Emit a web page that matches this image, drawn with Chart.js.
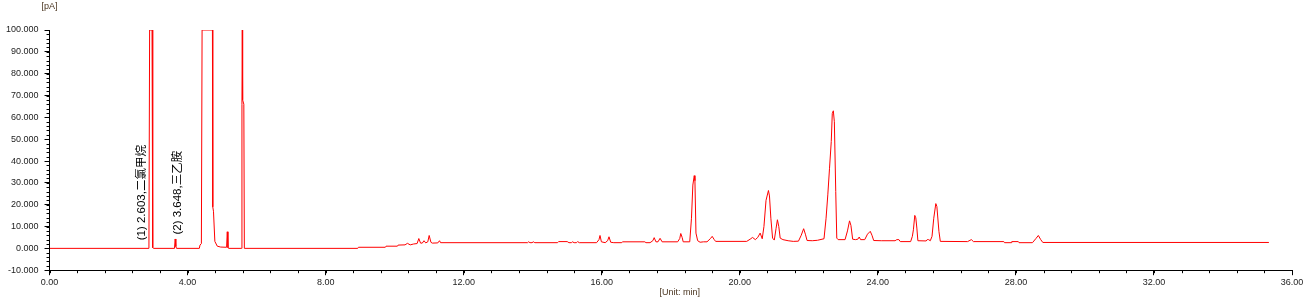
<!DOCTYPE html>
<html>
<head>
<meta charset="utf-8">
<script src="https://cdn.jsdelivr.net/npm/chart.js@4/dist/chart.umd.min.js"></script>
<style>
    html, body { margin: 0; padding: 0; background: #fff; }
    #wrap { width: 1316px; height: 304px; }
</style>
</head>
<body>
<div id="wrap"><canvas id="chart" width="1316" height="304"></canvas></div>
<script>
// retention time (min)
const times = [
    0.00, 2.88, 2.90, 2.97, 2.99, 3.02, 3.62, 3.64, 3.66, 3.68,
    4.34, 4.36, 4.40, 4.42, 4.72, 4.73, 4.75, 4.79, 4.86, 4.96,
    5.13, 5.15, 5.17, 5.20, 5.56, 5.575, 5.585, 5.595, 5.63, 5.645,
    8.93, 8.95, 9.73, 9.75, 10.08, 10.10, 10.30, 10.37, 10.45, 10.55,
    10.65, 10.70, 10.75, 10.80, 10.85, 10.90, 10.96, 11.00, 11.05, 11.09,
    11.25, 11.30, 11.33, 13.85, 13.88, 13.92, 13.98, 14.02, 14.06, 14.72,
    14.75, 15.00, 15.05, 15.12, 15.15, 15.20, 15.27, 15.30, 15.35, 15.85,
    15.92, 15.95, 15.99, 16.10, 16.17, 16.21, 16.26, 16.35, 16.58, 16.60,
    17.25, 17.28, 17.40, 17.48, 17.52, 17.57, 17.63, 17.69, 17.75, 18.20,
    18.26, 18.29, 18.33, 18.36, 18.55, 18.60, 18.64, 18.68, 18.70, 18.73,
    18.78, 18.85, 18.95, 19.05, 19.15, 19.20, 19.26, 19.30, 20.20, 20.30,
    20.37, 20.45, 20.52, 20.59, 20.65, 20.70, 20.76, 20.83, 20.86, 20.90,
    20.95, 21.00, 21.05, 21.09, 21.13, 21.17, 21.25, 21.40, 21.55, 21.70,
    21.78, 21.85, 21.90, 21.95, 22.10, 22.25, 22.44, 22.50, 22.55, 22.60,
    22.65, 22.68, 22.71, 22.74, 22.78, 22.81, 22.85, 23.05, 23.12, 23.18,
    23.22, 23.27, 23.35, 23.42, 23.46, 23.50, 23.62, 23.70, 23.78, 23.83,
    23.88, 24.10, 24.50, 24.55, 24.61, 24.65, 24.95, 25.00, 25.03, 25.07,
    25.10, 25.13, 25.16, 25.40, 25.43, 25.47, 25.52, 25.57, 25.62, 25.68,
    25.71, 25.77, 25.81, 26.60, 26.71, 26.77, 27.65, 27.67, 27.86, 27.88,
    28.07, 28.09, 28.48, 28.58, 28.65, 28.72, 28.78, 35.33
];
// detector signal (pA)
const signal = [
    0, 0, 100, 100, 0.3, 0, 0, 4.3, 0.8, 0,
    0, 1.5, 2.2, 100, 100, 19, 17, 3.2, 1.0, 0.6,
    0.5, 7.6, 0.3, 0, 0, 66, 100, 68, 66, 0,
    0, 0.5, 0.5, 1.0, 1.0, 1.5, 1.6, 2.3, 1.6, 2.0,
    2.2, 4.5, 2.4, 2.4, 3.5, 2.5, 3.0, 5.9, 2.8, 2.4,
    2.5, 3.5, 2.6, 2.6, 3.0, 2.6, 2.6, 3.0, 2.6, 2.6,
    3.1, 3.1, 2.6, 2.6, 3.0, 2.6, 2.6, 3.1, 2.6, 2.6,
    4.0, 5.9, 3.0, 2.6, 3.5, 5.3, 2.8, 2.6, 2.6, 3.0,
    3.0, 2.6, 2.6, 3.5, 4.9, 3.0, 3.0, 4.6, 3.0, 3.0,
    4.5, 6.8, 5.0, 3.0, 3.0, 13.8, 29, 33.3, 31, 7,
    3.5, 2.8, 3.0, 3.0, 4.5, 5.5, 4.0, 3.2, 3.2, 4.2,
    5.0, 4.0, 5.0, 7.0, 4.4, 10, 22, 26.5, 24, 13.8,
    4.7, 3.8, 9, 13.1, 10, 4.7, 4.0, 3.5, 3.2, 3.3,
    6.0, 9.0, 6.5, 3.6, 3.5, 3.7, 4.4, 13.8, 24.5, 36.7,
    48.9, 61.8, 63.0, 58, 26, 4.7, 4.0, 4.0, 8, 12.6,
    10.5, 4.2, 4.0, 4.2, 5.2, 4.0, 4.0, 6.5, 7.8, 6.0,
    3.6, 3.5, 3.5, 4.0, 4.0, 3.1, 3.1, 5.5, 8.5, 15.1,
    14, 9.3, 3.5, 3.4, 4.0, 4.0, 3.5, 5.5, 13.8, 20.5,
    19.2, 7.8, 3.2, 3.1, 4.0, 3.1, 3.1, 2.6, 2.6, 3.1,
    3.1, 2.6, 2.6, 4.5, 5.9, 4.0, 2.7, 2.7
];

const peakLabelTimes = [2.603, 3.648];
const peakLabelTexts = ['(1) 2.603,二氯甲烷', '(2) 3.648,三乙胺'];
const peakLabelLevel = 25.5;

const xMin = 0, xMax = 36, xStep = 4, xMinorStep = 0.8;
const yMin = -10, yMax = 100, yStep = 10, yMinorStep = 2;

const yUnit = '[pA]';
const xUnit = '[Unit: min]';

const points = times.map((t, i) => ({ x: t, y: signal[i] }));

// minor ticks, peak labels and unit captions
const decorations = {
    id: 'decorations',
    afterDraw(chart) {
        const ctx = chart.ctx;
        const xs = chart.scales.x;
        const ys = chart.scales.y;
        const area = chart.chartArea;

        ctx.save();
        ctx.strokeStyle = '#000';
        ctx.lineWidth = 1;
        ctx.beginPath();
        for (let v = xMin; v <= xMax + 1e-6; v += xMinorStep) {
            const px = Math.round(xs.getPixelForValue(v)) + 0.5;
            ctx.moveTo(px, area.bottom);
            ctx.lineTo(px, area.bottom + 3);
        }
        for (let v = yMin; v <= yMax + 1e-6; v += yMinorStep) {
            const py = Math.round(ys.getPixelForValue(v)) + 0.5;
            ctx.moveTo(area.left - 3, py);
            ctx.lineTo(area.left, py);
        }
        ctx.stroke();

        // peak labels, rotated
        ctx.fillStyle = '#000';
        ctx.font = "11.5px 'Liberation Sans', 'Noto Sans CJK SC', sans-serif";
        ctx.textAlign = 'center';
        ctx.textBaseline = 'middle';
        peakLabelTimes.forEach((t, i) => {
            const px = xs.getPixelForValue(t) + 2;
            const py = ys.getPixelForValue(peakLabelLevel);
            ctx.save();
            ctx.translate(px, py);
            ctx.rotate(-Math.PI / 2);
            ctx.fillText(peakLabelTexts[i], 0, 0);
            ctx.restore();
        });

        // unit captions
        ctx.fillStyle = '#4a3520';
        ctx.font = "9px 'Liberation Sans', Arial, sans-serif";
        ctx.fillText(yUnit, area.left, 7);
        ctx.fillText(xUnit, (area.left + area.right) / 2 + 9, 293);
        ctx.restore();
    }
};

new Chart(document.getElementById('chart'), {
    type: 'line',
    data: {
        datasets: [{
            data: points,
            borderColor: '#ff0000',
            borderWidth: 1,
            pointRadius: 0,
            tension: 0,
            fill: false
        }]
    },
    options: {
        responsive: false,
        animation: false,
        devicePixelRatio: 1,
        layout: { padding: { top: 30, right: 24, bottom: 14, left: 0 } },
        plugins: {
            legend: { display: false },
            tooltip: { enabled: false }
        },
        scales: {
            x: {
                type: 'linear',
                min: xMin,
                max: xMax,
                border: { color: '#000', width: 1 },
                grid: { drawOnChartArea: false, drawTicks: true, tickLength: 5, color: '#000' },
                ticks: {
                    stepSize: xStep,
                    autoSkip: false,
                    maxRotation: 0,
                    padding: 2,
                    color: '#222',
                    font: { family: "'Liberation Sans', Arial, sans-serif", size: 9 },
                    callback: v => v.toFixed(2)
                }
            },
            y: {
                min: yMin,
                max: yMax,
                border: { color: '#000', width: 1 },
                grid: { drawOnChartArea: false, drawTicks: true, tickLength: 5, color: '#000' },
                ticks: {
                    stepSize: yStep,
                    padding: 6,
                    color: '#222',
                    font: { family: "'Liberation Sans', Arial, sans-serif", size: 9 },
                    callback: v => v.toFixed(3)
                }
            }
        }
    },
    plugins: [decorations]
});
</script>
</body>
</html>
